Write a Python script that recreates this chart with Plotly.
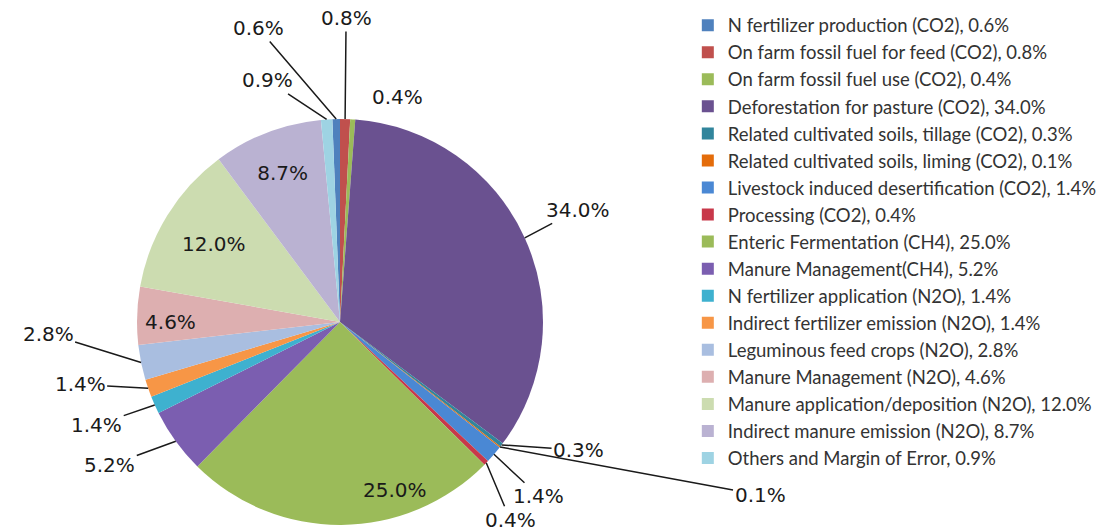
import math
import plotly.graph_objects as go

sources = [
    "N fertilizer production (CO2)",
    "On farm fossil fuel for feed (CO2)",
    "On farm fossil fuel use (CO2)",
    "Deforestation for pasture (CO2)",
    "Related cultivated soils, tillage (CO2)",
    "Related cultivated soils, liming (CO2)",
    "Livestock induced desertification (CO2)",
    "Processing (CO2)",
    "Enteric Fermentation (CH4)",
    "Manure Management(CH4)",
    "N fertilizer application (N2O)",
    "Indirect fertilizer emission (N2O)",
    "Leguminous feed crops (N2O)",
    "Manure Management (N2O)",
    "Manure application/deposition (N2O)",
    "Indirect manure emission (N2O)",
    "Others and Margin of Error",
]
shares = [0.6, 0.8, 0.4, 34.0, 0.3, 0.1, 1.4, 0.4, 25.0, 5.2, 1.4, 1.4, 2.8, 4.6, 12.0, 8.7, 0.9]

colors = [
    "#4F81BD", "#C0504D", "#9BBB59", "#6A5190", "#31859C", "#E46C0A",
    "#4A88D4", "#C8384A", "#9BBB59", "#7B5EB0", "#3EB1CF", "#F79646",
    "#A9BEE0", "#DDAFB0", "#CCDCB0", "#BAB2D2", "#9ED3E3",
]

# slices whose label the pie itself draws inside
inside = [False, False, False, False, False, False, False, False, False, False,
          False, False, False, True, True, True, False]

# label offsets (pixels from the slice's rim point to the text centre) and leader-line flag
label_offsets = [(-78, -91), (1, -101), (45, -22), (53, -28), (77, 5), (260, 48),
                 (45, 42), (24, 57), (54, -35), (-66, 24), (-58, 20), (-68, -4),
                 (-93, -29), None, None, None, (-59, -39)]
leader = [True, True, False, True, True, True, True, True, False, True, True, True,
          True, False, False, False, True]

W, H = 1097, 532
CX, CY, R = 340, 322, 203  # pie centre / radius in pixels
start_pct = -shares[0]       # first slice ends at 12 o'clock
rotation = start_pct * 3.6

dom_x = [(CX - R) / W, (CX + R) / W]
dom_y = [(H - CY - R) / H, (H - CY + R) / H]

legend_labels = [f"{s}, {v:.1f}%" for s, v in zip(sources, shares)]
label_font = dict(family="DejaVu Sans", size=20, color="#1a1a1a")

fig = go.Figure(go.Pie(
    labels=legend_labels,
    values=shares,
    sort=False,
    direction="clockwise",
    rotation=rotation,
    marker=dict(colors=colors, line=dict(width=0)),
    texttemplate="%{value:.1f}%",
    textposition=["inside" if f else "none" for f in inside],
    insidetextorientation="horizontal",
    insidetextfont=label_font,
    domain=dict(x=dom_x, y=dom_y),
    hoverinfo="label+value",
))

annotations = []
cum = start_pct
for i, v in enumerate(shares):
    mid = cum + v / 2
    cum += v
    if inside[i]:
        continue
    ang = math.radians(mid * 3.6)
    px = (CX + R * math.sin(ang)) / W
    py = (H - CY + R * math.cos(ang)) / H
    ax, ay = label_offsets[i]
    txt = f"{v:.1f}%"
    if leader[i]:
        annotations.append(dict(
            x=px, y=py, xref="paper", yref="paper", text=txt,
            showarrow=True, ax=ax, ay=ay, arrowhead=0, arrowwidth=1.5,
            arrowcolor="#1a1a1a", standoff=0, font=label_font,
        ))
    else:
        annotations.append(dict(
            x=px, y=py, xref="paper", yref="paper", text=txt,
            showarrow=False, xshift=ax, yshift=-ay, font=label_font,
            xanchor="center", yanchor="middle",
        ))

fig.update_layout(
    width=W, height=H,
    margin=dict(l=0, r=0, t=0, b=0, autoexpand=False),
    paper_bgcolor="white",
    showlegend=True,
    legend=dict(
        x=0.627, y=0.9875, xanchor="left", yanchor="top",
        font=dict(family="Lato", size=18.5, color="#333333"),
        bgcolor="rgba(0,0,0,0)",
    ),
    annotations=annotations,
)

fig.write_html("out.html", config={"displayModeBar": False},
               post_script="document.body.style.margin='0';")
